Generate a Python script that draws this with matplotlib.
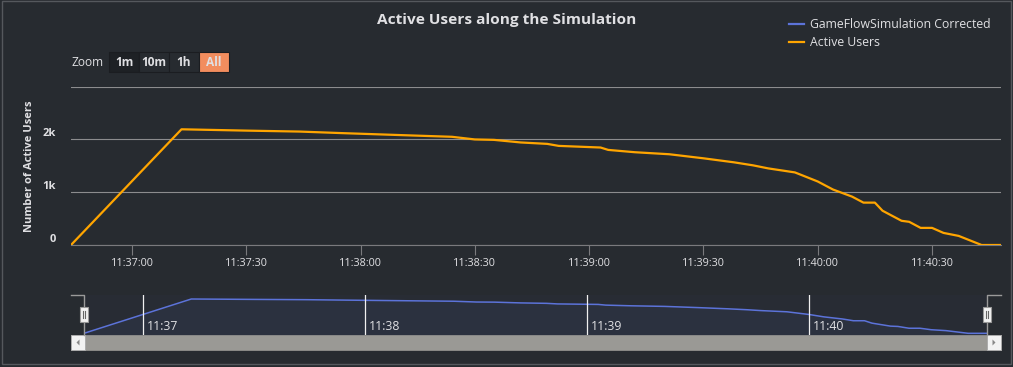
import matplotlib
matplotlib.use("Agg")
import matplotlib.pyplot as plt
import matplotlib.dates as mdates
from matplotlib.patches import Rectangle, Polygon
from matplotlib.lines import Line2D
import pandas as pd

plt.rcParams['font.family'] = ['Open Sans', 'DejaVu Sans']

# data
tijden = ["11:36:44", "11:37:13", "11:37:30", "11:37:44", "11:37:55", "11:38:16",
          "11:38:24", "11:38:30", "11:38:35", "11:38:42", "11:38:49", "11:38:52",
          "11:39:03", "11:39:05", "11:39:12", "11:39:21", "11:39:30", "11:39:38",
          "11:39:43", "11:39:47", "11:39:54", "11:39:56", "11:40:00", "11:40:04",
          "11:40:09", "11:40:12", "11:40:15", "11:40:17", "11:40:22", "11:40:24",
          "11:40:27", "11:40:30", "11:40:33", "11:40:37", "11:40:43", "11:40:48"]
actief = [0, 2190, 2165, 2147, 2118, 2067,
          2048, 1998, 1990, 1941, 1914, 1876,
          1845, 1800, 1756, 1718, 1641, 1565,
          1508, 1450, 1374, 1317, 1202, 1050,
          916, 802, 802, 649, 458, 439,
          324, 324, 229, 172, 0, 0]
y_ticks = [0, 1000, 2000, 3000]
y_labels = ["0", "1k", "2k", ""]
x_ticks = ["11:37:00", "11:37:30", "11:38:00", "11:38:30", "11:39:00",
           "11:39:30", "11:40:00", "11:40:30"]
nav_ticks = ["11:37", "11:38", "11:39", "11:40"]
zoom_knoppen = ["1m", "10m", "1h", "All"]

dag = "2024-01-01 "
t = pd.to_datetime([dag + s for s in tijden])
t_start = pd.Timestamp(dag + "11:36:44")
t_eind = pd.Timestamp(dag + "11:40:48.1")

bg = "#272b30"
tekst = "#e0e0e3"
oranje = "#ffa500"
blauw = "#5c73d9"
W, H = 1013, 367

fig = plt.figure(figsize=(W / 100, H / 100), dpi=100, facecolor=bg)

# main chart
ax = fig.add_axes([71 / W, 1 - 245 / H, 930 / W, 158.5 / H])
ax.set_facecolor(bg)
ax.plot(t, actief, color=oranje, lw=1.6, zorder=3)
ax.set_xlim(t_start, t_eind)
ax.set_ylim(0, 3000)
ax.set_yticks(y_ticks, y_labels)
ax.grid(axis='y', color="#8c8c8e", lw=0.8)
ax.set_axisbelow(True)
for s in ["top", "right", "left"]:
    ax.spines[s].set_visible(False)
ax.spines["bottom"].set_color("#7a7a7d")
ax.spines["bottom"].set_zorder(2)
ax.set_xticks(pd.to_datetime([dag + s for s in x_ticks]))
ax.xaxis.set_major_formatter(mdates.DateFormatter("%H:%M:%S"))
ax.tick_params(axis='x', colors="#7a7a7d", labelcolor=tekst, length=7.5, width=0.8,
               labelsize=7.8, pad=2)
ax.tick_params(axis='y', length=0, labelcolor=tekst, labelsize=8, pad=11)
for lab in ax.get_yticklabels():
    lab.set_fontweight("bold")
    lab.set_va("bottom")
ax.set_ylabel("Number of Active Users", color=tekst, fontsize=8, fontweight="bold")
ax.yaxis.set_label_coords(-36 / 930, 0.5)

fig.text(507 / W, 1 - 20 / H, "Active Users along the Simulation", color=tekst,
         fontsize=11.1, fontweight="bold", ha="center", va="center")

# legend
handles = [Line2D([], [], color=blauw, lw=1.6), Line2D([], [], color=oranje, lw=1.6)]
fig.legend(handles, ["GameFlowSimulation Corrected", "Active Users"], loc="upper left",
           bbox_to_anchor=(789 / W, 1 - 18 / H), frameon=False, fontsize=8.8,
           labelcolor=tekst, handlelength=1.25, handletextpad=0.45, labelspacing=0.42,
           borderaxespad=0, borderpad=0)

# navigator
nav = fig.add_axes([84 / W, 1 - 335 / H, 903 / W, 40 / H])
nav.set_facecolor("#282c34")
nav.plot(t, actief, color=blauw, lw=1.1, zorder=3)
nav.fill_between(t, actief, -200, color=blauw, alpha=0.07, lw=0)
nav.set_xlim(t_start, t_eind)
nav.set_ylim(-108, 2446)
nav.set_yticks([])
for s in nav.spines.values():
    s.set_visible(False)
nav_t = pd.to_datetime([dag + s for s in nav_ticks])
nav.set_xticks([])
for tt, lab in zip(nav_t, nav_ticks):
    nav.axvline(tt, color="#f0f0f0", lw=0.9, zorder=4)
    nav.annotate(lab, (mdates.date2num(tt), 0), xycoords=("data", "axes fraction"),
                 xytext=(3, 1.5), textcoords="offset points", color=tekst,
                 fontsize=8.8, ha="left", va="bottom")

# overlay for ui chrome (scrollbar, handles, zoom buttons, border)
ui = fig.add_axes([0, 0, 1, 1], facecolor="none")
ui.set_xlim(0, W)
ui.set_ylim(H, 0)
ui.axis("off")
ui.add_patch(Rectangle((2, 1), 1009, 363, fill=False, ec="#55585d", lw=1))
ui.add_patch(Rectangle((71, 335), 930, 15, fc="#9a9995", ec="#9a9995", lw=0.5))
for bx, punt in [(71, "l"), (987, "r")]:
    ui.add_patch(Rectangle((bx, 335), 14, 15, fc="#f2f2f2", ec="#a8a8a8", lw=0.6))
    cx = bx + 7
    if punt == "l":
        tri = [(cx + 1.5, 339.5), (cx + 1.5, 345.5), (cx - 1.5, 342.5)]
    else:
        tri = [(cx - 1.5, 339.5), (cx - 1.5, 345.5), (cx + 1.5, 342.5)]
    ui.add_patch(Polygon(tri, closed=True, fc="#888", ec="none"))
# handles
ui.plot([71, 84, 84], [295, 295, 335], color="#9a9a9a", lw=1)
ui.plot([1001, 987, 987], [295, 295, 335], color="#9a9a9a", lw=1)
for hx in [84, 987]:
    ui.add_patch(Rectangle((hx - 4, 307), 8, 15, fc="#f2f2f2", ec="#999", lw=0.8,
                           zorder=5))
    ui.plot([hx - 1.2, hx - 1.2], [311, 318], color="#666", lw=0.8, zorder=6)
    ui.plot([hx + 1.2, hx + 1.2], [311, 318], color="#666", lw=0.8, zorder=6)

# zoom buttons
ui.text(71, 62, "Zoom", color=tekst, fontsize=8.6, ha="left", va="center")
knop_x = [109, 139, 169, 199]
knop_fc = ["#1e2125", bg, bg, "#f28d5e"]
for kx, kfc, lab in zip(knop_x, knop_fc, zoom_knoppen):
    ui.add_patch(Rectangle((kx, 52), 30, 20, fc=kfc, ec="#1b1d21", lw=0.8))
    ui.text(kx + 15, 62, lab, color=tekst, fontsize=8.6, fontweight="bold",
            ha="center", va="center")

fig.savefig("out.png", dpi=100, facecolor=bg)
